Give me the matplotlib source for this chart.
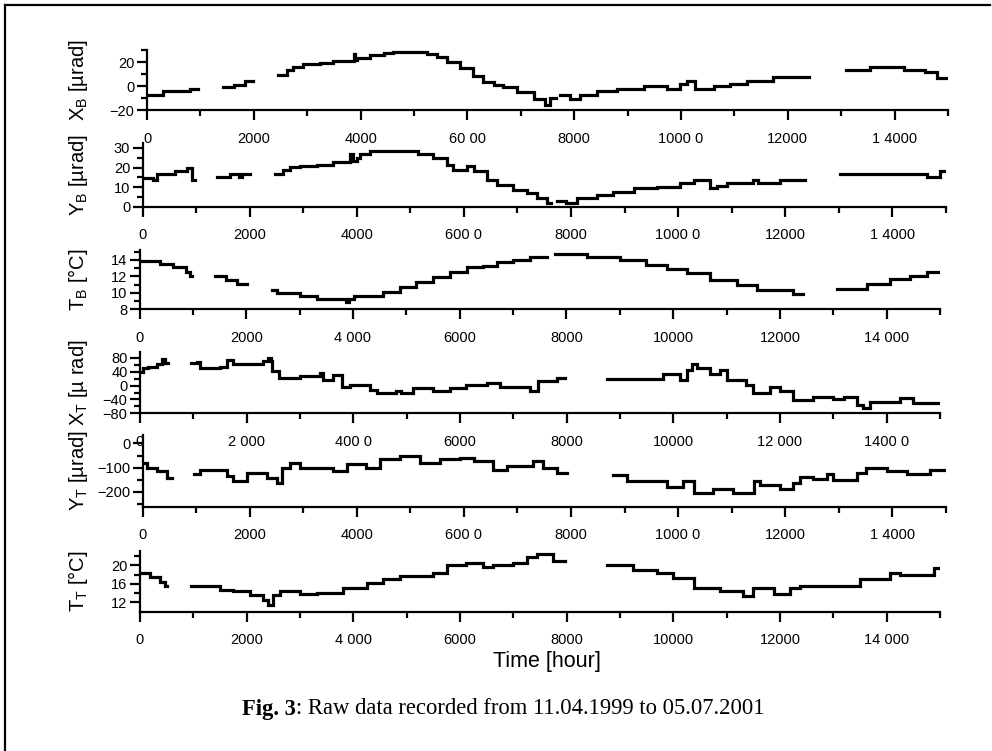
import numpy as np
import matplotlib
matplotlib.use("Agg")
import matplotlib.pyplot as plt
from matplotlib.lines import Line2D

plt.rcParams["font.family"] = ["Liberation Sans", "DejaVu Sans"]
plt.rcParams["mathtext.fontset"] = "custom"
plt.rcParams["mathtext.rm"] = "Liberation Sans"
plt.rcParams["mathtext.it"] = "Liberation Sans:italic"

nan = np.nan

# ------------------------------------------------------------------
# data (time in hours, NaN = gap in the record)
# ------------------------------------------------------------------
t_xb = [0, 300, 800, 960, nan,
        1420, 1620, 1840, 1990, nan,
        2460, 2620, 2740, 2930, 3240, 3490, 3870, 3900, 3940, 4180, 4430, 4610,
        4930, 5240, 5430, 5610, 5860, 6110, 6300, 6490, 6670, 6920, 7240, 7450,
        7550, 7650, nan,
        7740, 7920, 8110, 8420, 8800, 9300, 9730, 9980, 10110, 10260, 10610,
        10920, 11230, 11730, 12390, nan,
        13090, 13540, 14170, 14570, 14790, 15000]
xb = [-7.3, -4.2, -2.1, -2.1, nan,
      -0.8, 1.0, 4.4, 4.4, nan,
      8.8, 13.0, 15.6, 18.0, 19.5, 20.8, 26.5, 21.5, 23.4, 26.0, 27.6, 28.4,
      28.0, 26.5, 24.0, 20.0, 14.8, 8.3, 3.1, 1.0, -0.8, -4.7, -11.0, -16.0,
      -10.0, -10.0, nan,
      -7.8, -11.0, -7.3, -4.2, -2.1, 0.0, -2.9, 1.8, 4.4, -2.9, 0.0,
      2.0, 4.4, 7.5, 7.5, nan,
      13.5, 16.0, 13.5, 11.7, 7.0, 7.0]

t_yb = [0, 200, 260, 600, 820, 915, 980, nan,
        1380, 1630, 1800, 1850, 2000, nan,
        2470, 2630, 2750, 2940, 3250, 3560, 3880, 3920, 4000, 4060, 4250, 5150,
        5430, 5680, 5800, 6050, 6180, 6430, 6610, 6920, 7170, 7360, 7550, 7620, nan,
        7740, 7900, 8110, 8480, 8790, 9170, 9600, 10040, 10290, 10600, 10720,
        10910, 11280, 11400, 11500, 11900, 12370, nan,
        13030, 13770, 14650, 14890, 15000]
yb = [14.6, 13.4, 16.8, 18.0, 19.7, 13.7, 13.7, nan,
      15.1, 16.8, 15.1, 16.8, 16.8, nan,
      16.8, 18.8, 20.2, 20.9, 21.5, 22.6, 27.0, 23.5, 24.8, 27.0, 28.3, 27.0,
      24.8, 21.4, 18.8, 20.9, 18.0, 13.5, 11.1, 8.6, 6.9, 4.3, 1.7, 1.7, nan,
      2.9, 1.7, 4.3, 6.0, 7.7, 9.4, 10.3, 12.0, 13.7, 9.4, 10.5,
      12.3, 12.3, 13.4, 12.3, 13.4, 13.4, nan,
      16.6, 16.8, 15.4, 18.0, 18.0]

t_tb = [0, 380, 630, 880, 950, 980, nan,
        1415, 1630, 1820, 2010, nan,
        2480, 2570, 3010, 3320, 3870, 3920, 4010, 4570, 4880, 5190, 5500, 5820,
        6130, 6440, 6690, 7000, 7320, 7630, nan,
        7790, 8380, 9000, 9500, 9880, 10250, 10690, 11190, 11570, 12250, 12440, nan,
        13070, 13630, 14060, 14440, 14750, 15000]
tb = [13.9, 13.5, 13.1, 12.5, 12.0, 12.0, nan,
      12.1, 11.6, 11.1, 11.1, nan,
      10.4, 10.0, 9.6, 9.25, 8.9, 9.25, 9.6, 10.1, 10.7, 11.3, 11.9, 12.5,
      13.1, 13.3, 13.7, 14.0, 14.3, 14.3, nan,
      14.7, 14.4, 14.0, 13.4, 12.9, 12.4, 11.6, 10.9, 10.3, 9.9, 9.9, nan,
      10.5, 11.1, 11.7, 12.1, 12.5, 12.5]

t_xt = [0, 60, 150, 310, 420, 470, 520, nan,
        950, 1060, 1125, 1500, 1625, 1750, 2310, 2400, 2450, 2470, 2600, 3000,
        3380, 3440, 3620, 3780, 3940, 4310, 4440, 4800, 4900, 5120, 5500, 5810,
        6120, 6500, 6750, 7310, 7470, 7810, 7970, nan,
        8750, 9810, 10120, 10250, 10350, 10440, 10690, 10870, 11000, 11370, 11500,
        11810, 12000, 12250, 12620, 13000, 13200, 13440, 13560, 13690, 14250,
        14500, 15000]
xt = [40, 50, 55, 62, 78, 66, 66, nan,
      65, 69, 51, 55, 75, 63, 70, 80, 70, 41, 22, 28,
      36, 17, 31, -3, 2, -12, -22, -15, -22, -7, -17, -7,
      2, 8, -3, -17, 12, 22, 22, nan,
      19, 34, 17, 46, 63, 51, 34, 46, 17, 2, -22,
      -3, -17, -41, -32, -40, -32, -56, -65, -46, -36,
      -49, -49]

t_yt = [0, 75, 260, 450, 540, nan,
        960, 1070, 1570, 1690, 1940, 2320, 2500, 2600, 2750, 2940, 3560, 3810,
        4180, 4430, 4810, 5180, 5550, 5930, 6180, 6550, 6800, 7300, 7480, 7730,
        7920, nan,
        8790, 9040, 9790, 10100, 10290, 10660, 11030, 11410, 11530, 11900, 12150,
        12280, 12530, 12780, 12900, 13340, 13520, 13900, 14270, 14710, 15000]
yt = [-80, -101, -115, -142, -142, nan,
      -128, -108, -135, -156, -121, -142, -163, -101, -80, -101, -115, -87,
      -101, -66, -52, -80, -66, -59, -73, -108, -94, -73, -101, -124,
      -124, nan,
      -132, -156, -179, -156, -204, -190, -204, -156, -174, -190, -163,
      -138, -146, -128, -152, -121, -101, -115, -128, -108, -108]

t_tt = [0, 190, 375, 470, 500, nan,
        950, 1500, 1750, 2060, 2310, 2400, 2500, 2620, 3000, 3310, 3810, 4000,
        4250, 4560, 4870, 5500, 5750, 6120, 6440, 6620, 7000, 7250, 7440, 7750,
        7970, nan,
        8750, 9250, 9690, 10000, 10380, 10880, 11310, 11500, 11880, 12190, 12380,
        13000, 13500, 14060, 14250, 14880, 15000]
tt = [18.4, 17.6, 16.5, 15.5, 15.5, nan,
      15.5, 14.7, 14.4, 13.7, 12.6, 11.5, 13.7, 14.4, 13.9, 14.0, 15.2, 15.1,
      16.2, 17.1, 17.8, 18.4, 20.1, 20.5, 19.7, 20.1, 20.6, 21.9, 22.4, 20.9,
      20.9, nan,
      20.1, 19.1, 18.4, 17.3, 15.2, 14.5, 13.4, 15.1, 13.8, 15.1, 15.6,
      15.5, 17.1, 18.4, 18.0, 19.4, 19.4]

# x tick labels as they are printed in each panel
x_major = [0, 2000, 4000, 6000, 8000, 10000, 12000, 14000]
lab_xb = ["0", "2000", "4000", "60 00", "8000", "1000 0", "12000", "1 4000"]
lab_yb = ["0", "2000", "4000", "600 0", "8000", "1000 0", "12000", "1 4000"]
lab_tb = ["0", "2000", "4 000", "6000", "8000", "10000", "12000", "14 000"]
lab_xt = ["0", "2 000", "400 0", "6000", "8000", "10000", "12 000", "1400 0"]
lab_yt = ["0", "2000", "4000", "600 0", "8000", "1000 0", "12000", "1 4000"]
lab_tt = ["0", "2000", "4 000", "6000", "8000", "10000", "12000", "14 000"]

# (time, values, ylabel, ylim, yticks, yminor, xlabels, box in pixels l,t,r,b)
panels = [
    (t_xb, xb, r"X$_\mathregular{B}$ [µrad]", (-20, 30), [-20, 0, 20], [-10, 10, 30], lab_xb, (147, 50, 948, 110)),
    (t_yb, yb, r"Y$_\mathregular{B}$ [µrad]", (0, 32.5), [0, 10, 20, 30], [5, 15, 25], lab_yb, (142.7, 143, 945.7, 206.7)),
    (t_tb, tb, r"T$_\mathregular{B}$ [°C]", (8, 15.2), [8, 10, 12, 14], [9, 11, 13, 15], lab_tb, (139.5, 250, 940, 309.3)),
    (t_xt, xt, r"X$_\mathregular{T}$ [µ rad]", (-80, 97), [-80, -40, 0, 40, 80], [-60, -20, 20, 60], lab_xt, (140, 352, 940, 413.3)),
    (t_yt, yt, r"Y$_\mathregular{T}$ [µrad]", (-262, 35), [-200, -100, 0], [-250, -150, -50], lab_yt, (142.7, 435, 945.7, 506.7)),
    (t_tt, tt, r"T$_\mathregular{T}$ [°C]", (10, 23.2), [12, 16, 20], [14, 18, 22], lab_tt, (140, 550.7, 940, 611.7)),
]

W, H = 992, 751
fig = plt.figure(figsize=(W / 100, H / 100), dpi=100)

for t, v, ylab, ylim, yt_major, yt_minor, xlabs, box in panels:
    l, tp, r, b = box
    ax = fig.add_axes([l / W, 1 - b / H, (r - l) / W, (b - tp) / H])
    ax.plot(t, v, drawstyle="steps-post", color="black", linewidth=2.3,
            solid_joinstyle="miter")
    ax.set_xlim(0, 15000)
    ax.set_ylim(*ylim)
    ax.set_xticks(x_major, labels=xlabs)
    ax.set_xticks(list(range(1000, 16000, 2000)), minor=True)
    ax.set_yticks(yt_major)
    ax.set_yticks(yt_minor, minor=True)
    for s in ["top", "right"]:
        ax.spines[s].set_visible(False)
    for s in ["left", "bottom"]:
        ax.spines[s].set_linewidth(1.6)
    ax.tick_params(which="major", direction="out", length=7, width=1.6,
                   labelsize=10.5)
    ax.tick_params(which="minor", direction="out", length=4, width=1.6)
    ax.tick_params(axis="x", pad=8.5)
    ax.tick_params(axis="y", pad=2)
    ax.patch.set_alpha(0)
    fig.text(78 / W, 1 - (tp + b) / 2 / H, ylab, rotation=90, ha="center",
             va="center", fontsize=14.5)

fig.text(547 / W, 1 - 662 / H, "Time [hour]", ha="center", va="center", fontsize=15.5)

fig.text(296 / W, 1 - 709 / H, "Fig. 3", ha="right", va="center",
         fontsize=16.3, fontweight="bold", family="Liberation Serif")
fig.text(296 / W, 1 - 709 / H, ": Raw data recorded from 11.04.1999 to 05.07.2001",
         ha="left", va="center", fontsize=16.3, family="Liberation Serif")

# open frame around the figure (left and top edges)
fig.add_artist(Line2D([5 / W, 5 / W], [0, 1 - 5 / H], color="black", linewidth=1.6,
                      transform=fig.transFigure))
fig.add_artist(Line2D([5 / W, 990 / W], [1 - 5 / H, 1 - 5 / H], color="black",
                      linewidth=1.6, transform=fig.transFigure))

fig.savefig("out.png", dpi=100)
